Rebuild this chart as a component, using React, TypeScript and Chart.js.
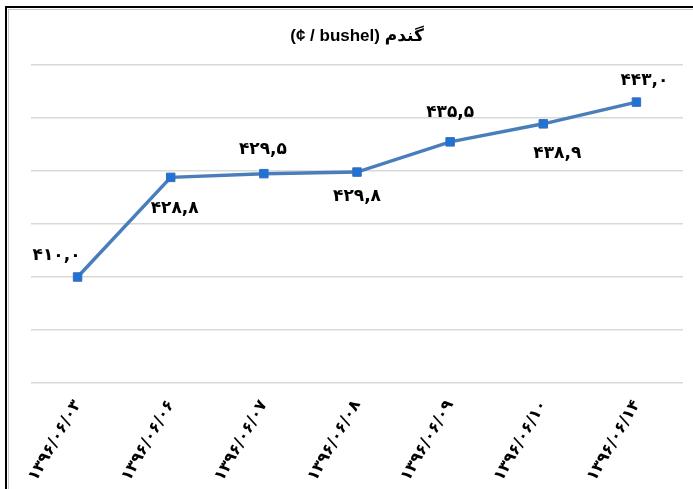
import React, { useEffect, useRef } from "react";
import { Chart, registerables } from "chart.js";

Chart.register(...registerables);

// ---- data ----
const categories = [
  "۱۳۹۶/۰۶/۰۳",
  "۱۳۹۶/۰۶/۰۶",
  "۱۳۹۶/۰۶/۰۷",
  "۱۳۹۶/۰۶/۰۸",
  "۱۳۹۶/۰۶/۰۹",
  "۱۳۹۶/۰۶/۱۰",
  "۱۳۹۶/۰۶/۱۴",
];
const wheatPrices = [410.0, 428.8, 429.5, 429.8, 435.5, 438.9, 443.0];
const yMin = 390;
const yMax = 450;
const yStep = 10;
const titleText = "(¢ / bushel) گندم";

const persianDigits = "۰۱۲۳۴۵۶۷۸۹";
const toPersian = (v: number) =>
  v
    .toFixed(1)
    .replace(".", ",")
    .replace(/[0-9]/g, (d) => persianDigits[Number(d)]);

// label placement relative to each point (style)
const labelOffsets: [number, number][] = [
  [-21, -21],
  [4, 31],
  [-1, -24],
  [0, 25],
  [0, -29],
  [14, 30],
  [8, -22],
];

const valueLabelPlugin = {
  id: "valueLabels",
  afterDatasetsDraw(chart: any) {
    const meta = chart.getDatasetMeta(0);
    const ctx = chart.ctx;
    ctx.save();
    ctx.font = 'bold 17px "DejaVu Sans"';
    ctx.fillStyle = "#000";
    ctx.textAlign = "center";
    ctx.textBaseline = "middle";
    meta.data.forEach((pt: any, i: number) => {
      const [dx, dy] = labelOffsets[i];
      ctx.fillText(toPersian(wheatPrices[i]), pt.x + dx, pt.y + dy);
    });
    ctx.restore();
  },
};

export default function App() {
  const ref = useRef<HTMLCanvasElement | null>(null);

  useEffect(() => {
    if (!ref.current) return;
    const chart = new Chart(ref.current, {
      type: "line",
      data: {
        labels: categories,
        datasets: [
          {
            data: wheatPrices,
            borderColor: "#4a7ebb",
            borderWidth: 3.5,
            pointStyle: "rect",
            pointRadius: 6,
            pointBackgroundColor: "#1f72d6",
            pointBorderColor: "#3b6fb5",
            pointBorderWidth: 1,
            tension: 0,
          },
        ],
      },
      options: {
        responsive: false,
        animation: false,
        layout: { padding: { left: 31, right: 10, top: 0, bottom: 0 } },
        plugins: {
          legend: { display: false },
          tooltip: { enabled: false },
          title: {
            display: true,
            text: titleText,
            color: "#000",
            font: { family: '"Liberation Sans", "DejaVu Sans"', size: 17, weight: "bold" },
            padding: { top: 26, bottom: 18.6 },
          },
        },
        scales: {
          x: {
            offset: true,
            grid: { display: false },
            border: { display: false },
            ticks: {
              color: "#000",
              font: { family: '"DejaVu Sans"', size: 16, weight: "bold" },
              minRotation: 60,
              maxRotation: 60,
              padding: 6,
              autoSkip: false,
            },
            afterFit: (axis: any) => {
              axis.height = 106;
            },
          },
          y: {
            min: yMin,
            max: yMax,
            border: { display: false },
            grid: { color: "#d9d9d9", lineWidth: 1.5, drawTicks: false },
            ticks: { display: false, stepSize: yStep },
            afterFit: (axis: any) => {
              axis.width = 0;
            },
          },
        },
      },
      plugins: [valueLabelPlugin],
    });
    return () => chart.destroy();
  }, []);

  return (
    <div
      style={{
        position: "fixed",
        left: 0,
        top: 0,
        width: 693,
        height: 489,
        overflow: "hidden",
        background: "#fff",
      }}
    >
      <div
        style={{
          position: "absolute",
          left: 5,
          top: 6,
          width: 760,
          height: 560,
          borderTop: "2px solid #000",
          borderLeft: "2px solid #000",
        }}
      />
      <div
        style={{
          position: "absolute",
          left: 8,
          top: 9,
          width: 760,
          height: 560,
          borderTop: "1px solid #c8c8c8",
          borderLeft: "1px solid #c8c8c8",
        }}
      />
      <canvas
        ref={ref}
        width={693}
        height={489}
        style={{ position: "absolute", left: 0, top: 0 }}
      />
    </div>
  );
}
